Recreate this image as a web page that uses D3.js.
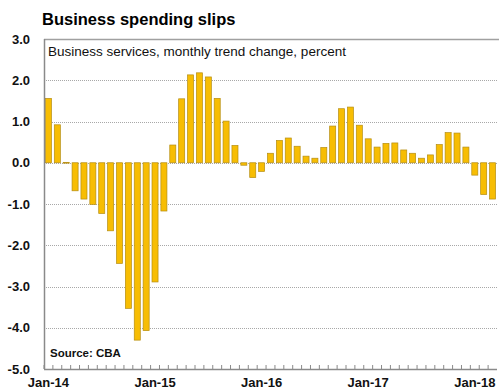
<!DOCTYPE html>
<html>
<head>
<meta charset="utf-8">
<script src="https://cdn.jsdelivr.net/npm/d3@7"></script>
<style>
  body { margin: 0; background: #fff; }
  text { font-family: "Liberation Sans", Arial, sans-serif; }
</style>
</head>
<body>
<div id="chart"></div>
<script>
// monthly values, Jan-14 .. Mar-18
var values = [
  1.56, 0.92, 0.01, -0.68, -0.88, -1.01, -1.23, -1.65, -2.44, -3.53, -4.3, -4.07,
  -2.89, -1.17, 0.43, 1.55, 2.13, 2.18, 2.08, 1.56, 1.01, 0.42, -0.06, -0.36,
  -0.21, 0.23, 0.54, 0.6, 0.4, 0.16, 0.11, 0.37, 0.89, 1.31, 1.35, 0.91,
  0.58, 0.38, 0.47, 0.48, 0.31, 0.23, 0.11, 0.19, 0.44, 0.73, 0.72, 0.38,
  -0.3, -0.77, -0.88
];
var monthNames = ["Jan", "Feb", "Mar", "Apr", "May", "Jun", "Jul", "Aug", "Sep", "Oct", "Nov", "Dec"];
var months = values.map(function(v, i) {
  return monthNames[i % 12] + "-" + (14 + Math.floor(i / 12));
});
var yTicks = [-5, -4, -3, -2, -1, 0, 1, 2, 3];
var xLabels = ["Jan-14", "Jan-15", "Jan-16", "Jan-17", "Jan-18"];

var W = 499, H = 389;
var plotLeft = 44, plotRight = 497, plotTop = 39, plotBottom = 369;

var svg = d3.select("#chart").append("svg")
  .attr("width", W)
  .attr("height", H);

var x = d3.scaleBand()
  .domain(months)
  .range([plotLeft, plotRight])
  .paddingInner(0.32)
  .paddingOuter(0.16);

var y = d3.scaleLinear()
  .domain([-5, 3])
  .range([plotBottom, plotTop]);

//gridlines
svg.append("g")
  .selectAll("line")
  .data(yTicks.filter(function(d) { return d > -5 && d < 3; }))
  .enter().append("line")
  .attr("x1", plotLeft)
  .attr("x2", plotRight)
  .attr("y1", function(d) { return Math.round(y(d)) + 0.5; })
  .attr("y2", function(d) { return Math.round(y(d)) + 0.5; })
  .style("stroke", "#a8a8a8")
  .style("stroke-width", 1)
  .style("stroke-dasharray", "1,1");

//top frame line
svg.append("line")
  .attr("x1", plotLeft).attr("x2", W)
  .attr("y1", plotTop + 0.5).attr("y2", plotTop + 0.5)
  .style("stroke", "#a0a0a0")
  .style("stroke-width", 1.5);

//bars
svg.append("g")
  .selectAll("rect")
  .data(values)
  .enter().append("rect")
  .attr("x", function(d, i) { return x(months[i]); })
  .attr("width", x.bandwidth())
  .attr("y", function(d) { return y(Math.max(0, d)); })
  .attr("height", function(d) { return Math.max(0.8, Math.abs(y(d) - y(0))); })
  .style("fill", "#f7bd03")
  .style("stroke", "#b58d12")
  .style("stroke-width", 0.7);

//left axis line
svg.append("line")
  .attr("x1", plotLeft + 0.5).attr("x2", plotLeft + 0.5)
  .attr("y1", plotTop).attr("y2", plotBottom)
  .style("stroke", "#8a8a8a")
  .style("stroke-width", 1.5);

//bottom axis
var xAxis = d3.axisBottom(x)
  .tickSize(-4)
  .tickFormat("");
var gx = svg.append("g")
  .attr("transform", "translate(0," + plotBottom + ")")
  .call(xAxis);
gx.select(".domain").remove();
gx.selectAll(".tick line")
  .attr("transform", "translate(" + (-x.step() / 2) + ",0)")
  .style("stroke", "#8a8a8a");
svg.append("line")
  .attr("x1", plotLeft).attr("x2", plotRight)
  .attr("y1", plotBottom + 0.5).attr("y2", plotBottom + 0.5)
  .style("stroke", "#8a8a8a")
  .style("stroke-width", 1.5);

//x labels
svg.append("g")
  .selectAll("text")
  .data(xLabels)
  .enter().append("text")
  .text(function(d) { return d; })
  .attr("x", function(d) { return x(d) + x.bandwidth() / 2; })
  .attr("y", 387)
  .attr("text-anchor", "middle")
  .style("font-size", "13px")
  .style("font-weight", "bold")
  .style("fill", "#111");

//y labels
svg.append("g")
  .selectAll("text")
  .data(yTicks)
  .enter().append("text")
  .text(function(d) { return d3.format(".1f")(d).replace("−", "-"); })
  .attr("x", 30)
  .attr("y", function(d) { return y(d) + 4.5; })
  .attr("text-anchor", "end")
  .style("font-size", "13px")
  .style("font-weight", "bold")
  .style("fill", "#111");

//titles
svg.append("text").text("Business spending slips")
  .attr("x", 42).attr("y", 25)
  .style("font-size", "16.5px")
  .style("font-weight", "bold")
  .style("fill", "#000");

svg.append("text").text("Business services, monthly trend change, percent")
  .attr("x", 48).attr("y", 56)
  .style("font-size", "13.5px")
  .style("fill", "#111");

svg.append("text").text("Source: CBA")
  .attr("x", 50).attr("y", 357)
  .style("font-size", "11.5px")
  .style("font-weight", "bold")
  .style("fill", "#111");
</script>
</body>
</html>
